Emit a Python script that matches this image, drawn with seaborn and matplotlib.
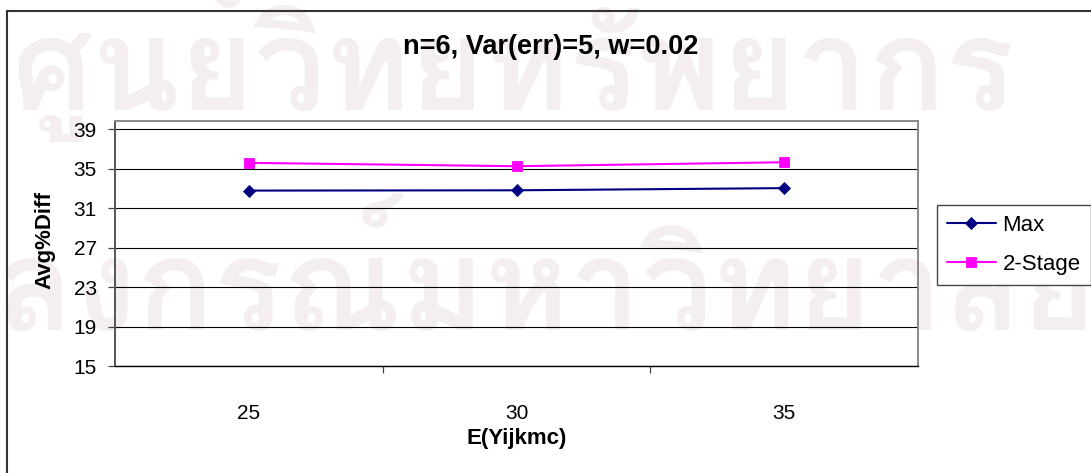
import numpy as np
import pandas as pd
import seaborn as sns
import matplotlib
matplotlib.use("Agg")
import matplotlib.pyplot as plt
from matplotlib import font_manager
from matplotlib.lines import Line2D
from matplotlib.ticker import FixedLocator

# ---- data -------------------------------------------------------------
categories = ["25", "30", "35"]
series_names = ["Max", "2-Stage"]
max_values = [32.77, 32.80, 33.02]
two_stage_values = [35.58, 35.24, 35.64]
y_ticks = [15, 19, 23, 27, 31, 35, 39]

title_text = "n=6, Var(err)=5, w=0.02"
x_label = "E(Yijkmc)"
y_label = "Avg%Diff"
stamp_lines = ["ศูนย์วิทยทรัพยากร", "จุฬาลงกรณ์มหาวิทยาลัย"]

df = pd.DataFrame({
    "E": categories * 2,
    "value": max_values + two_stage_values,
    "series": [series_names[0]] * 3 + [series_names[1]] * 3,
})

sns.set_theme(style="white")
plt.rcParams["font.family"] = ["Liberation Sans", "DejaVu Sans"]

W, H = 1091, 473
fig = plt.figure(figsize=(W / 100, H / 100), dpi=100)
fig.patch.set_facecolor("white")


def thai_family():
    """Return an installed family that covers Thai script, if any."""
    try:
        from fontTools.ttLib import TTFont
    except Exception:
        return None
    for fe in font_manager.fontManager.ttflist:
        if "CJK" in fe.name:
            continue
        try:
            f = TTFont(fe.fname, fontNumber=0, lazy=True)
            cmap = f.getBestCmap()
            if cmap and 0x0E28 in cmap and 0x0E4C in cmap:
                return fe.name
        except Exception:
            continue
    return None


# faint library stamp behind the chart
fam = thai_family()
if fam is not None:
    stamp_color = "#f4eef1"
    fig.text(0.47, 1 - 110 / H, stamp_lines[0], family=[fam], fontsize=92,
             fontweight="bold", color=stamp_color, ha="center",
             va="baseline", zorder=-5)
    fig.text(1.005, 1 - 330 / H, stamp_lines[1], family=[fam], fontsize=92,
             fontweight="bold", color=stamp_color, ha="right",
             va="baseline", zorder=-5)

# plot area
x0, x1 = 115 / W, 918 / W
y0, y1 = 1 - 366 / H, 1 - 121 / H
ax = fig.add_axes([x0, y0, x1 - x0, y1 - y0])
ax.set_facecolor("none")

palette = {"Max": "#000080", "2-Stage": "#ff00ff"}
sns.pointplot(data=df, x="E", y="value", hue="series", order=categories,
              hue_order=series_names, palette=palette, markers=["D", "s"],
              linestyles=["-", "-"], errorbar=None, ax=ax,
              linewidth=1.5, markersize=7)

for ln in ax.lines:
    if ln.get_marker() == "D":
        ln.set_markersize(5.8)
    elif ln.get_marker() == "s":
        ln.set_markersize(7.5)
    ln.set_linewidth(1.5)
    ln.set_markeredgewidth(0.6)
    ln.set_zorder(4)

ax.set_xlim(-0.5, len(categories) - 0.5)
ax.set_ylim(15, 39.82)
ax.set_yticks(y_ticks)
ax.set_yticklabels([str(t) for t in y_ticks])

# horizontal gridlines
for t in y_ticks:
    ax.axhline(t, color="black", lw=0.8, zorder=1)

ax.tick_params(axis="y", which="major", direction="out", length=5, width=0.9,
               color="#444444", pad=8, labelsize=15, left=True)
ax.tick_params(axis="x", which="major", length=0, pad=27, labelsize=15)
ax.xaxis.set_minor_locator(FixedLocator([0.5, 1.5]))
ax.tick_params(axis="x", which="minor", direction="out", length=5, width=0.9,
               color="#444444", bottom=True)
for lab in ax.get_xticklabels() + ax.get_yticklabels():
    lab.set_color("black")

for side in ["top", "right"]:
    ax.spines[side].set_color("#8a8a8a")
    ax.spines[side].set_linewidth(1.4)
ax.spines["left"].set_color("#555555")
ax.spines["left"].set_linewidth(1.4)
ax.spines["bottom"].set_color("black")
ax.spines["bottom"].set_linewidth(1.0)

ax.set_xlabel(x_label, fontsize=16, fontweight="bold", color="black")
ax.xaxis.label.set_verticalalignment("center")
ax.xaxis.set_label_coords((517 - 115) / 803, (366 - 438) / 245)
ax.set_ylabel(y_label, fontsize=16, fontweight="bold", color="black")
ax.yaxis.label.set_verticalalignment("center")
ax.yaxis.set_label_coords((45 - 115) / 803, (366 - 240) / 245)

fig.text(551 / W, 1 - 47 / H, title_text, fontsize=19.5, fontweight="bold",
         color="black", ha="center", va="center")

handles, labels = ax.get_legend_handles_labels()
leg = ax.legend(handles, labels, loc="upper left",
                bbox_to_anchor=(937 / W, 1 - 205 / H),
                bbox_transform=fig.transFigure, borderaxespad=0,
                fontsize=16, frameon=True, fancybox=False, shadow=False,
                handlelength=2.2, handletextpad=0.3, labelspacing=0.8,
                borderpad=0.45, framealpha=1)
leg.get_frame().set_edgecolor("#444444")
leg.get_frame().set_linewidth(1.0)
for txt in leg.get_texts():
    txt.set_color("black")

# chart frame (runs off the right and bottom edges)
fig.add_artist(Line2D([7 / W, 7 / W], [0, 1 - 11 / H], transform=fig.transFigure,
                      color="#333333", lw=1.5))
fig.add_artist(Line2D([7 / W, 1.0], [1 - 11 / H, 1 - 11 / H],
                      transform=fig.transFigure, color="#333333", lw=1.5))

fig.savefig("out.png", dpi=100, facecolor="white")
